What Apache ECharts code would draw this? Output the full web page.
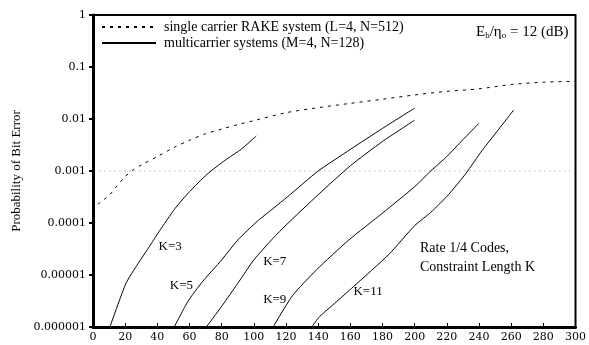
<!DOCTYPE html>
<html>
<head>
<meta charset="utf-8">
<script src="https://cdn.jsdelivr.net/npm/echarts@6/dist/echarts.min.js"></script>
<style>
  html, body { margin: 0; padding: 0; background: #fff; }
  #main { width: 589px; height: 345px; }
</style>
</head>
<body>
<div id="main"></div>
<script>
// single carrier RAKE system (dotted)
const rakeX   = [3, 10, 15, 20, 25, 30, 40, 50, 60, 70, 80, 90, 100, 120, 140, 160, 180, 200, 220, 240, 260, 280, 300];
const rakeBer = [2.3e-4, 3.4e-4, 5.2e-4, 7.8e-4, 1.05e-3, 1.3e-3, 1.9e-3, 2.8e-3, 3.9e-3, 5.2e-3, 6.4e-3, 7.8e-3, 9.3e-3,
                 0.0132, 0.0165, 0.020, 0.024, 0.029, 0.034, 0.038, 0.046, 0.051, 0.053];

// multicarrier systems, one curve per constraint length K
const k3X   = [10.5, 20.5, 28, 35, 41, 51, 60, 71, 82, 92, 101.5];
const k3Ber = [1e-6, 6.9e-6, 1.66e-5, 3.5e-5, 6.8e-5, 1.9e-4, 4.0e-4, 8.7e-4, 1.6e-3, 2.6e-3, 4.7e-3];

const k5X   = [50.5, 59, 68, 80, 90, 102, 112, 121, 140, 160, 180, 200];
const k5Ber = [1e-6, 3.1e-6, 7.4e-6, 1.95e-5, 4.7e-5, 1.07e-4, 1.9e-4, 3.2e-4, 1.0e-3, 2.6e-3, 6.6e-3, 1.62e-2];

const k7X   = [70.5, 80, 90, 100, 112, 120, 140, 160, 180, 200];
const k7Ber = [1e-6, 2.5e-6, 6.9e-6, 1.95e-5, 5.1e-5, 9.1e-5, 3.5e-4, 1.26e-3, 3.7e-3, 9.5e-3];

const k9X   = [112, 124, 139, 159, 180, 200, 210, 220, 230, 240];
const k9Ber = [1e-6, 4e-6, 1.26e-5, 4.7e-5, 1.55e-4, 5e-4, 1e-3, 1.9e-3, 4e-3, 8.3e-3];

const k11X   = [136, 141, 150, 162, 184, 200, 210, 221, 232, 242, 252, 261.5];
const k11Ber = [1e-6, 1.6e-6, 2.8e-6, 6e-6, 2.5e-5, 8.9e-5, 1.6e-4, 3.5e-4, 9.1e-4, 2.5e-3, 6.2e-3, 1.48e-2];

// where the K=.. labels sit (data coords)
const kNames  = ['K=3', 'K=5', 'K=7', 'K=9', 'K=11'];
const kLabelX = [48, 55, 113, 113, 171];
const kLabelY = [3.5e-5, 6.4e-6, 1.8e-5, 3.3e-6, 4.7e-6];

const xTicks = [0, 300, 20];          // min, max, interval
const yTicks = [1e-6, 1];             // log axis range
const refX = [4, 298];                // dotted reference line at 0.001
const refBer = [0.001, 0.001];

const rakeName = 'single carrier RAKE system (L=4, N=512)';
const mcName = 'multicarrier systems (M=4, N=128)';
const serif = 'Liberation Serif';

function zip(xs, ys) {
    return xs.map((x, i) => [x, ys[i]]);
}

const chart = echarts.init(document.getElementById('main'), null, { renderer: 'canvas' });

const kCurves = [[k3X, k3Ber], [k5X, k5Ber], [k7X, k7Ber], [k9X, k9Ber], [k11X, k11Ber]];

const kSeries = kCurves.map((c, i) => ({
    name: mcName,
    type: 'line',
    data: zip(c[0], c[1]),
    showSymbol: false,
    symbol: 'none',
    smooth: 0.2,
    silent: true,
    clip: true,
    itemStyle: { color: '#000' },
    lineStyle: { color: '#000', width: 1 },
    markPoint: {
        symbol: 'circle',
        symbolSize: 0,
        silent: true,
        label: {
            show: true,
            position: 'inside',
            color: '#000',
            fontFamily: serif,
            fontSize: 13,
            formatter: kNames[i]
        },
        data: [{ coord: [kLabelX[i], kLabelY[i]] }]
    }
}));

const option = {
    backgroundColor: '#fff',
    animation: false,
    grid: {
        left: 93,
        right: 11,
        top: 15,
        bottom: 18,
        show: true,
        borderColor: '#000',
        borderWidth: 2
    },
    legend: {
        orient: 'vertical',
        left: 101,
        top: 20,
        padding: 0,
        itemWidth: 54,
        itemHeight: 14,
        itemGap: 2,
        selectedMode: false,
        itemStyle: { opacity: 0 },
        textStyle: { color: '#000', fontFamily: serif, fontSize: 14, padding: [0, 0, 0, 3] },
        data: [{ name: rakeName }, { name: mcName }]
    },
    xAxis: {
        type: 'value',
        min: xTicks[0],
        max: xTicks[1],
        interval: xTicks[2],
        axisLine: { show: true, lineStyle: { color: '#000', width: 3 } },
        axisTick: { show: true, inside: true, length: 4, lineStyle: { color: '#000', width: 1 } },
        axisLabel: { color: '#000', fontFamily: 'DejaVu Serif', fontSize: 11, margin: 5 },
        splitLine: { show: false }
    },
    yAxis: {
        type: 'log',
        logBase: 10,
        min: yTicks[0],
        max: yTicks[1],
        name: 'Probability of Bit Error',
        nameLocation: 'middle',
        nameGap: 68,
        nameTextStyle: { color: '#000', fontFamily: serif, fontSize: 13 },
        axisLine: { show: true, lineStyle: { color: '#000', width: 3 } },
        axisTick: { show: true, inside: false, length: 4, lineStyle: { color: '#000', width: 2 } },
        axisLabel: {
            color: '#000',
            fontFamily: 'DejaVu Serif',
            fontSize: 11,
            margin: 7,
            formatter: function (v) {
                if (v >= 1) return '1';
                return v.toFixed(Math.round(-Math.log10(v)));
            }
        },
        splitLine: { show: false },
        minorTick: { show: false }
    },
    graphic: [{
        type: 'text',
        left: 476,
        top: 25,
        style: {
            text: '{n|E}{s|b}{n|/η}{s|o}{n| = 12 (dB)}',
            fill: '#000',
            rich: {
                n: { fontFamily: serif, fontSize: 15, verticalAlign: 'bottom', lineHeight: 17 },
                s: { fontFamily: serif, fontSize: 9, verticalAlign: 'bottom', lineHeight: 13 }
            }
        }
    }, {
        type: 'text',
        left: 420,
        top: 241,
        style: { text: 'Rate 1/4 Codes,', fill: '#000', font: '14px "Liberation Serif"' }
    }, {
        type: 'text',
        left: 420,
        top: 260,
        style: { text: 'Constraint Length K', fill: '#000', font: '14px "Liberation Serif"' }
    }],
    series: [{
        name: 'ref',
        type: 'line',
        data: zip(refX, refBer),
        showSymbol: false,
        symbol: 'none',
        silent: true,
        z: 1,
        itemStyle: { color: '#999' },
        lineStyle: { color: '#999', width: 1, type: [1, 4] }
    }, {
        name: rakeName,
        type: 'line',
        data: zip(rakeX, rakeBer),
        showSymbol: false,
        symbol: 'none',
        smooth: 0.3,
        silent: true,
        itemStyle: { color: '#000' },
        lineStyle: { color: '#000', width: 1, type: [3, 5] }
    }].concat(kSeries)
};

chart.setOption(option);
</script>
</body>
</html>
